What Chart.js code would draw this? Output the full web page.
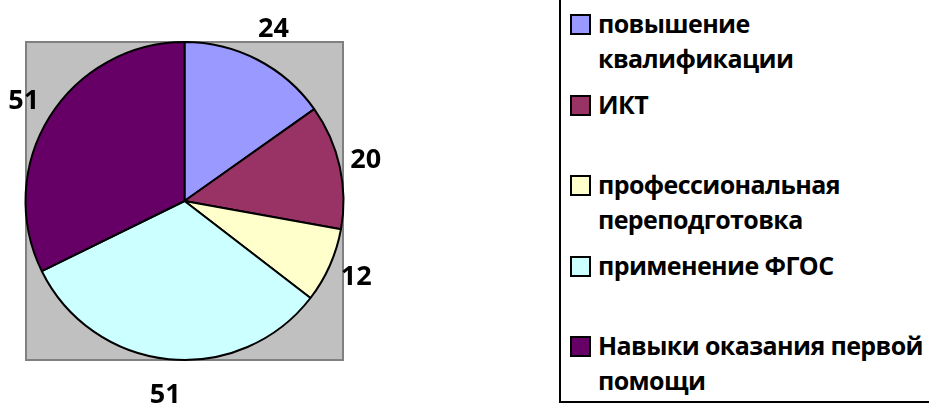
<!DOCTYPE html>
<html>
<head>
<meta charset="utf-8">
<script src="https://cdn.jsdelivr.net/npm/chart.js@4.4.1/dist/chart.umd.min.js"></script>
<style>
  html, body { margin: 0; padding: 0; background: #ffffff; }
  #wrap { position: relative; width: 929px; height: 403px; overflow: hidden; background: #fff; }
  #chart { position: absolute; left: 0; top: 0; }
  #legend {
    position: absolute; left: 559px; top: -6px; width: 400px; height: 409px;
    border: 2px solid #000; box-sizing: border-box; background: #fff;
    font-family: "Open Sans", sans-serif; font-weight: 700; font-size: 25px; color: #000;
    letter-spacing: -0.6px;
  }
  .item { position: absolute; left: 0; }
  .box { position: absolute; left: 9px; width: 21px; height: 21px; border: 2px solid #000; box-sizing: border-box; }
  .txt { position: absolute; left: 37px; line-height: 35px; white-space: nowrap; }
</style>
</head>
<body>
<div id="wrap">
  <canvas id="chart" width="929" height="403"></canvas>
  <div id="legend"></div>
</div>
<script>
// ---- data ----
const categories = [
  ["повышение", "квалификации"],
  ["ИКТ"],
  ["профессиональная", "переподготовка"],
  ["применение ФГОС"],
  ["Навыки оказания первой", "помощи"]
];
const values = [24, 20, 12, 51, 51];
const colors = ["#9999FF", "#993366", "#FFFFCC", "#CCFFFF", "#660066"];

const FONT = '"Open Sans", sans-serif';

const plotBg = {
  id: 'plotBg',
  beforeDraw(chart) {
    const a = chart.chartArea, ctx = chart.ctx;
    ctx.save();
    ctx.fillStyle = '#C0C0C0';
    ctx.fillRect(a.left, a.top, a.right - a.left, a.bottom - a.top);
    ctx.strokeStyle = '#808080';
    ctx.lineWidth = 2;
    ctx.strokeRect(a.left + 1, a.top + 1, a.right - a.left - 2, a.bottom - a.top - 2);
    ctx.restore();
  }
};

const outsideLabels = {
  id: 'outsideLabels',
  afterDatasetsDraw(chart) {
    const ctx = chart.ctx;
    const meta = chart.getDatasetMeta(0);
    ctx.save();
    ctx.font = '700 27px ' + FONT;
    ctx.fillStyle = '#000';
    ctx.textAlign = 'center';
    ctx.textBaseline = 'middle';
    meta.data.forEach((arc, i) => {
      const p = arc.getProps(['x', 'y', 'startAngle', 'endAngle', 'outerRadius'], true);
      const mid = (p.startAngle + p.endAngle) / 2;
      // label box is wider than tall: push slightly further out vertically
      const r = p.outerRadius + 24 + 12 * Math.abs(Math.sin(mid));
      ctx.fillText(String(chart.data.datasets[0].data[i]), p.x + Math.cos(mid) * r, p.y + Math.sin(mid) * r);
    });
    ctx.restore();
  }
};

const chart = new Chart(document.getElementById('chart'), {
  type: 'pie',
  data: {
    labels: categories,
    datasets: [{
      data: values,
      backgroundColor: colors,
      borderColor: '#000000',
      borderWidth: 2,
      hoverOffset: 0
    }]
  },
  options: {
    responsive: false,
    animation: false,
    events: [],
    radius: 159,
    layout: { padding: { left: 25, top: 41, right: 585, bottom: 42 } },
    plugins: {
      legend: { display: false },
      tooltip: { enabled: false },
      title: { display: false }
    }
  },
  plugins: [plotBg, outsideLabels]
});

// HTML legend built from chart data
const legend = document.getElementById('legend');
const ds = chart.data.datasets[0];
chart.data.labels.forEach((lab, i) => {
  const top = 18 + 80.5 * i; // legend box top sits at -6
  const item = document.createElement('div');
  item.className = 'item';
  item.style.top = top + 'px';
  const box = document.createElement('div');
  box.className = 'box';
  box.style.top = '0px';
  box.style.background = ds.backgroundColor[i];
  const txt = document.createElement('div');
  txt.className = 'txt';
  txt.style.top = '-8px';
  txt.innerHTML = (Array.isArray(lab) ? lab : [lab]).map(s => s.replace(/&/g, '&amp;').replace(/</g, '&lt;')).join('<br>');
  item.appendChild(box);
  item.appendChild(txt);
  legend.appendChild(item);
});
</script>
</body>
</html>
